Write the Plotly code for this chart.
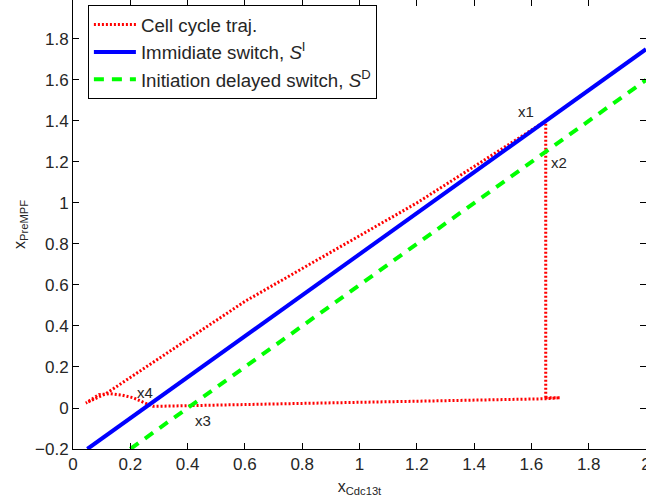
import plotly.graph_objects as go

# Cell cycle trajectory (x_Cdc13t, x_PreMPF)
traj_x = [1.65, 1.65, 1.20, 0.60, 0.115, 0.045, 0.09, 0.13, 0.17, 0.21, 0.25, 0.28, 0.86, 1.65, 1.70, 1.65]
traj_y = [0.05, 1.40, 1.00, 0.52, 0.070, 0.024, 0.065, 0.07, 0.063, 0.05, 0.025, 0.008, 0.024, 0.045, 0.05, 0.05]

# Immediate switch S^I
si_x = [0.05, 2.0]
si_y = [-0.20, 1.75]

# Initiation delayed switch S^D
sd_x = [0.20, 2.0]
sd_y = [-0.20, 1.60]

# Point labels
lab_text = ["x1", "x2", "x3", "x4"]
lab_x = [1.582, 1.697, 0.453, 0.25]
lab_y = [1.444, 1.195, -0.063, 0.078]

x_ticks = [0, 0.2, 0.4, 0.6, 0.8, 1, 1.2, 1.4, 1.6, 1.8, 2]
y_ticks = [-0.2, 0, 0.2, 0.4, 0.6, 0.8, 1, 1.2, 1.4, 1.6, 1.8]

FONT = "Liberation Sans, Arial, Helvetica, sans-serif"
TXT = "#262626"

fig = go.Figure()
fig.add_trace(go.Scatter(x=traj_x, y=traj_y, mode="lines", name="Cell cycle traj.",
                         legendgroup="a",
                         line=dict(color="#ff0000", width=3, dash="2px,2px")))
fig.add_trace(go.Scatter(x=si_x, y=si_y, mode="lines", name="Immidiate switch, <i>S</i><sup>I</sup>",
                         legendgroup="b",
                         line=dict(color="#0000ff", width=4)))
fig.add_trace(go.Scatter(x=sd_x, y=sd_y, mode="lines", name="Initiation delayed switch, <i>S</i><sup>D</sup>",
                         legendgroup="c",
                         line=dict(color="#00ff00", width=4, dash="10px,8px")))

for t, xx, yy in zip(lab_text, lab_x, lab_y):
    fig.add_annotation(x=xx, y=yy, text=t, showarrow=False,
                       font=dict(family=FONT, size=15, color=TXT))

axis_common = dict(showgrid=False, zeroline=False, showline=True, linecolor="black",
                   linewidth=1, mirror="ticks", ticks="inside", ticklen=6,
                   tickcolor="black", ticklabeloverflow="allow",
                   tickfont=dict(family=FONT, size=17, color=TXT))

fig.update_xaxes(range=[0, 2], tickvals=x_ticks, ticktext=[f"{v:g}" for v in x_ticks],
                 automargin=False,
                 title=dict(text="x<sub>Cdc13t</sub>", font=dict(family=FONT, size=16, color=TXT)),
                 **axis_common)
fig.update_yaxes(range=[-0.2, 1.99], tickvals=y_ticks,
                 ticktext=[f"{v:g}".replace("-", "\u2212") for v in y_ticks],
                 automargin=True,
                 title=dict(text="x<sub>PreMPF</sub>", font=dict(family=FONT, size=16, color=TXT),
                            standoff=5),
                 **axis_common)

fig.update_layout(
    width=646, height=497,
    margin=dict(l=73, r=0, t=0, b=48),
    plot_bgcolor="white", paper_bgcolor="white",
    font=dict(family=FONT, color=TXT),
    legend=dict(x=0.026, y=0.989, xanchor="left", yanchor="top",
                bgcolor="white", bordercolor="black", borderwidth=1,
                font=dict(family=FONT, size=18.7, color=TXT),
                tracegroupgap=0, itemwidth=42),
    showlegend=True,
)

fig.write_html("out.html", post_script="document.body.style.margin='0';",
               config={"displayModeBar": False})
